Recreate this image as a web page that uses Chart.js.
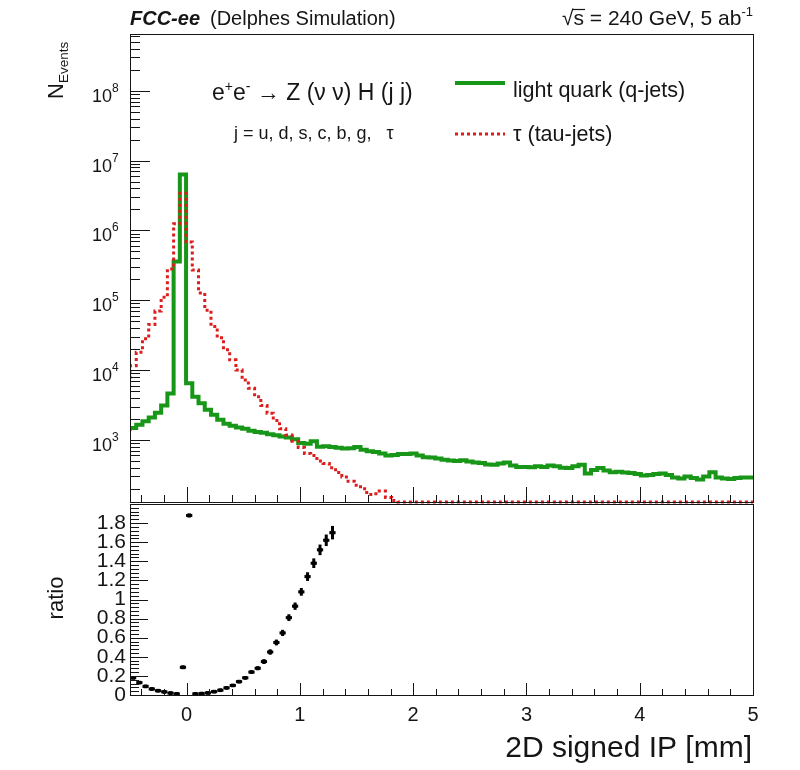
<!DOCTYPE html>
<html>
<head>
<meta charset="utf-8">
<script src="https://cdn.jsdelivr.net/npm/chart.js@4/dist/chart.umd.min.js"></script>
<style>
  html, body { margin: 0; padding: 0; background: #fff; }
  #wrap { position: relative; width: 800px; height: 770px; overflow: hidden; }
  canvas { position: absolute; left: 0; }
  #mainPad { top: 0; }
  #ratioPad { top: 500px; }
</style>
</head>
<body>
<div id="wrap">
  <canvas id="mainPad" width="800" height="506"></canvas>
  <canvas id="ratioPad" width="800" height="270"></canvas>
</div>
<script>
// Histogram binning: 100 bins of 0.055 mm from -0.5 to 5 mm
const binLow = -0.5;
const binWidth = 0.055;
const nBins = 100;

// Events per bin, light quark jets
const qJets = [
  1350, 1480, 1650, 1850, 2100, 2450, 3100, 4600, 360000, 6300000,
  6500, 4150, 3350, 2700, 2300, 1950, 1700, 1600, 1500, 1450,
  1350, 1300, 1270, 1200, 1170, 1120, 1080, 1020, 900, 880,
  960, 800, 810, 790, 770, 750, 760, 790, 720, 690,
  670, 640, 600, 610, 630, 630, 640, 600, 565, 560,
  540, 520, 505, 500, 510, 490, 475, 465, 445, 440,
  460, 475, 430, 410, 410, 405, 420, 410, 430, 420,
  400, 395, 420, 440, 330, 370, 395, 365, 345, 350,
  340, 335, 325, 310, 315, 325, 330, 315, 290, 280,
  300, 285, 270, 300, 345, 290, 280, 275, 285, 290
];

// Events per bin, tau jets (empty bins are 0)
const tauJets = [
  7500, 11500, 18000, 28000, 45000, 70000, 110000, 280000, 1250000, 3400000,
  680000, 270000, 127000, 72000, 42000, 29000, 19500, 14000, 10000, 7200,
  5500, 4150, 3100, 2400, 1900, 1450, 1180, 960, 780, 640,
  600, 500, 460, 400, 340, 295, 255, 225, 200, 165,
  170, 185, 150, 135, 0, 0, 0, 0, 0, 0,
  0, 0, 0, 0, 0, 0, 0, 0, 0, 0,
  0, 0, 0, 0, 0, 0, 0, 0, 0, 0,
  0, 0, 0, 0, 0, 0, 0, 0, 0, 0,
  0, 0, 0, 0, 0, 0, 0, 0, 0, 0,
  0, 0, 0, 0, 0, 0, 0, 0, 0, 0
];

// q-jets / tau-jets ratio for the first bins (higher bins lie above the panel)
const ratioVals = [
  0.18, 0.13, 0.09, 0.063, 0.045, 0.033, 0.02, 0.012, 0.29, 1.88,
  0.012, 0.015, 0.022, 0.035, 0.05, 0.075, 0.10, 0.14, 0.18, 0.24,
  0.28, 0.35, 0.45, 0.55, 0.65, 0.81, 0.93, 1.08, 1.24, 1.38,
  1.52, 1.62, 1.70
];
const ratioErr = [
  0.006, 0.006, 0.006, 0.006, 0.006, 0.006, 0.006, 0.006, 0.008, 0.01,
  0.005, 0.005, 0.005, 0.005, 0.005, 0.005, 0.005, 0.006, 0.007, 0.008,
  0.01, 0.015, 0.018, 0.02, 0.022, 0.025, 0.028, 0.03, 0.035, 0.04,
  0.045, 0.05, 0.06
];

// Axis labels
const xTickLabels = ['0', '1', '2', '3', '4', '5'];
const logTickExps = ['3', '4', '5', '6', '7', '8'];
const ratioTickLabels = ['0', '0.2', '0.4', '0.6', '0.8', '1', '1.2', '1.4', '1.6', '1.8'];

const X_MIN = -0.5, X_MAX = 5;
const Y_MIN = 129, Y_MAX = 6.5e8;
const R_MIN = 0, R_MAX = 2;

const FONT = '"Liberation Sans", Arial, Helvetica, sans-serif';
const INK = '#151515';
const GREEN = 'rgb(24,150,24)';
const RED = 'rgb(222,28,28)';

function binEdge(k) { return binLow + k * binWidth; }

// step outline of a histogram: one point per lower bin edge plus the last upper edge
function stepPoints(values) {
  const pts = values.map((v, k) => ({ x: binEdge(k), y: Math.max(v, Y_MIN) }));
  pts.push({ x: binEdge(values.length), y: Math.max(values[values.length - 1], Y_MIN) });
  return pts;
}

function fontStr(p) {
  return (p.italic ? 'italic ' : '') + (p.bold ? 'bold ' : '') + p.size + 'px ' + FONT;
}

// draws a run of text pieces (for super/subscripts), returns their positions
function drawRich(ctx, x, y, parts, align) {
  let w = 0;
  parts.forEach(p => { ctx.font = fontStr(p); p.w = ctx.measureText(p.t).width; w += p.w; });
  let cx = align === 'right' ? x - w : (align === 'center' ? x - w / 2 : x);
  const out = [];
  parts.forEach(p => {
    ctx.font = fontStr(p);
    ctx.fillText(p.t, cx, y + (p.dy || 0));
    out.push({ x: cx, w: p.w });
    cx += p.w;
  });
  return out;
}

function seg(ctx, x1, y1, x2, y2) {
  ctx.beginPath(); ctx.moveTo(x1, y1); ctx.lineTo(x2, y2); ctx.stroke();
}

function xTicks(ctx, x, yBase, major, minor) {
  for (let i = -4; i <= 50; i += 2) {
    const px = Math.round(x.getPixelForValue(i / 10)) + 0.5;
    seg(ctx, px, yBase, px, yBase - (i % 10 === 0 ? major : minor));
  }
}

// frame, ticks, labels and legend of the distribution pad
const mainDecor = {
  id: 'mainDecor',
  afterDraw(chart) {
    const { ctx, chartArea: a, scales: { x, y } } = chart;
    ctx.save();
    ctx.strokeStyle = INK;
    ctx.lineWidth = 1;
    ctx.strokeRect(a.left + 0.5, a.top + 0.5, a.right - a.left, a.bottom - a.top);

    for (let d = 2; d <= 8; d++) {
      for (let m = 1; m <= 9; m++) {
        const v = m * Math.pow(10, d);
        if (v < y.min || v > y.max) continue;
        const py = Math.round(y.getPixelForValue(v)) + 0.5;
        seg(ctx, a.left, py, a.left + (m === 1 ? 20 : 10), py);
      }
    }
    xTicks(ctx, x, a.bottom, 15, 7);

    ctx.fillStyle = INK;
    ctx.textBaseline = 'alphabetic';
    logTickExps.forEach(e => {
      const py = y.getPixelForValue(Math.pow(10, +e));
      drawRich(ctx, 112, py + 11, [{ t: '10', size: 18 }], 'right');
      drawRich(ctx, 112, py + 1, [{ t: e, size: 12 }], 'left');
    });

    // y title
    ctx.save();
    ctx.translate(63, 99);
    ctx.rotate(-Math.PI / 2);
    drawRich(ctx, 0, 0, [{ t: 'N', size: 22 }, { t: 'Events', size: 13.5, dy: 5 }], 'left');
    ctx.restore();

    // header
    drawRich(ctx, 130, 25, [{ t: 'FCC-ee', size: 20, bold: true, italic: true }], 'left');
    drawRich(ctx, 210, 25, [{ t: '(Delphes Simulation)', size: 20 }], 'left');
    const hp = drawRich(ctx, 753, 25, [
      { t: '\u221A', size: 21 }, { t: 's', size: 21 },
      { t: ' = 240 GeV, 5 ab', size: 21 }, { t: '-1', size: 13, dy: -9 }
    ], 'right');
    ctx.lineWidth = 1.2;
    seg(ctx, hp[1].x - 1, 9.5, hp[1].x + hp[1].w + 1, 9.5);

    // process and legend
    drawRich(ctx, 212, 100, [
      { t: 'e', size: 23 }, { t: '+', size: 14, dy: -9 }, { t: 'e', size: 23 },
      { t: '-', size: 14, dy: -9 }, { t: ' \u2192 Z (\u03BD \u03BD) H (j j)', size: 23 }
    ], 'left');
    drawRich(ctx, 234, 139, [{ t: 'j = u, d, s, c, b, g,   \u03C4', size: 18 }], 'left');

    ctx.lineWidth = 4;
    ctx.strokeStyle = GREEN;
    seg(ctx, 455, 83, 505, 83);
    ctx.lineWidth = 3;
    ctx.strokeStyle = RED;
    ctx.setLineDash([3, 3]);
    seg(ctx, 455, 134, 505, 134);
    ctx.setLineDash([]);
    drawRich(ctx, 513, 97, [{ t: 'light quark (q-jets)', size: 21.5 }], 'left');
    drawRich(ctx, 513, 141, [{ t: '\u03C4 (tau-jets)', size: 21.5 }], 'left');
    ctx.restore();
  }
};

// frame, ticks, labels and error bars of the ratio pad
const ratioDecor = {
  id: 'ratioDecor',
  beforeDatasetsDraw(chart) {
    const { ctx, chartArea: a, scales: { x, y } } = chart;
    ctx.save();
    ctx.beginPath();
    ctx.rect(a.left, a.top, a.right - a.left, a.bottom - a.top);
    ctx.clip();
    ctx.strokeStyle = '#000';
    ctx.lineWidth = 3;
    const hw = (x.getPixelForValue(binWidth) - x.getPixelForValue(0)) / 2;
    ratioVals.forEach((r, k) => {
      const cx = x.getPixelForValue(binEdge(k) + binWidth / 2);
      const py = y.getPixelForValue(r);
      seg(ctx, cx - hw, py, cx + hw, py);
      seg(ctx, cx, y.getPixelForValue(r - ratioErr[k]) + 1, cx, y.getPixelForValue(r + ratioErr[k]) - 1);
    });
    ctx.restore();
  },
  afterDraw(chart) {
    const { ctx, chartArea: a, scales: { x, y } } = chart;
    ctx.save();
    ctx.strokeStyle = INK;
    ctx.lineWidth = 1;
    ctx.strokeRect(a.left + 0.5, a.top + 0.5, a.right - a.left, a.bottom - a.top);
    for (let i = 0; i <= 50; i++) {
      const py = Math.round(y.getPixelForValue(i * 0.04)) + 0.5;
      seg(ctx, a.left, py, a.left + (i % 5 === 0 ? 18 : 9), py);
    }
    xTicks(ctx, x, a.bottom, 12, 6);

    ctx.fillStyle = INK;
    ctx.textBaseline = 'middle';
    ratioTickLabels.forEach(l => {
      drawRich(ctx, 126, y.getPixelForValue(parseFloat(l)), [{ t: l, size: 21 }], 'right');
    });
    ctx.textBaseline = 'alphabetic';
    xTickLabels.forEach(l => {
      drawRich(ctx, x.getPixelForValue(parseFloat(l)), 221, [{ t: l, size: 20 }], 'center');
    });
    drawRich(ctx, 752, 257, [{ t: '2D signed IP [mm]', size: 30 }], 'right');

    ctx.save();
    ctx.translate(63, 98);
    ctx.rotate(-Math.PI / 2);
    drawRich(ctx, 0, 0, [{ t: 'ratio', size: 22 }], 'center');
    ctx.restore();
    ctx.restore();
  }
};

const quiet = { legend: { display: false }, tooltip: { enabled: false }, title: { display: false } };

new Chart(document.getElementById('mainPad'), {
  type: 'line',
  data: {
    datasets: [
      {
        label: '\u03C4 (tau-jets)',
        data: stepPoints(tauJets),
        borderColor: RED,
        borderWidth: 3,
        borderDash: [3, 3],
        stepped: 'after',
        pointRadius: 0,
        fill: false,
        order: 0,
        clip: { left: 0, top: 0, right: 0, bottom: 3 }
      },
      {
        label: 'light quark (q-jets)',
        data: stepPoints(qJets),
        borderColor: GREEN,
        borderWidth: 4,
        stepped: 'after',
        pointRadius: 0,
        fill: false,
        order: 1
      }
    ]
  },
  options: {
    responsive: false,
    animation: false,
    devicePixelRatio: 1,
    layout: { padding: { left: 130, right: 47, top: 34, bottom: 4 } },
    scales: {
      x: { type: 'linear', min: X_MIN, max: X_MAX, bounds: 'data', display: false },
      y: { type: 'logarithmic', min: Y_MIN, max: Y_MAX, bounds: 'data', display: false }
    },
    plugins: quiet
  },
  plugins: [mainDecor]
});

new Chart(document.getElementById('ratioPad'), {
  type: 'scatter',
  data: {
    datasets: [{
      label: 'ratio',
      data: ratioVals.map((r, k) => ({ x: binEdge(k) + binWidth / 2, y: r })),
      pointStyle: 'rect',
      pointRadius: 2.6,
      backgroundColor: '#000',
      borderColor: '#000',
      borderWidth: 0
    }]
  },
  options: {
    responsive: false,
    animation: false,
    devicePixelRatio: 1,
    layout: { padding: { left: 130, right: 47, top: 2, bottom: 75 } },
    scales: {
      x: { type: 'linear', min: X_MIN, max: X_MAX, bounds: 'data', display: false },
      y: { type: 'linear', min: R_MIN, max: R_MAX, bounds: 'data', display: false }
    },
    plugins: quiet
  },
  plugins: [ratioDecor]
});
</script>
</body>
</html>
